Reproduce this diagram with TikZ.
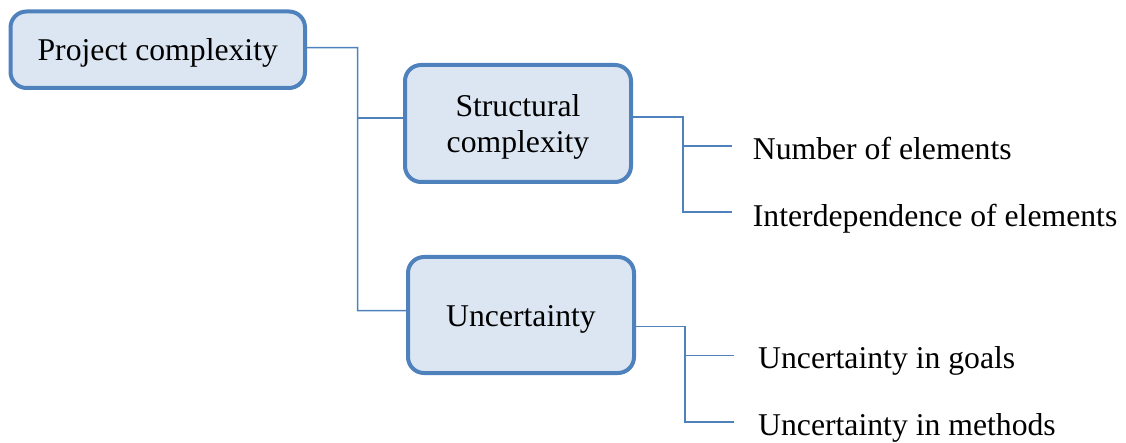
\documentclass[tikz,border=0pt]{standalone}
\usepackage{fontspec}
\setmainfont{Liberation Serif}
\definecolor{bord}{HTML}{4F81BD}
\definecolor{fillb}{HTML}{DCE6F2}
\newcommand{\lowerby}[2]{\raisebox{-#1}[\height][\depth]{#2}}
\begin{document}
\begin{tikzpicture}[x=1pt,y=-1pt,
  box/.style={draw=bord, fill=fillb, line width=4pt, rounded corners=16pt, align=center, inner sep=0pt,
    font=\fontsize{31.7}{36}\selectfont},
  leaf/.style={anchor=base west, inner sep=0pt, font=\fontsize{31.7}{36}\selectfont},
  conn/.style={draw=bord, line width=1.5pt}]
\useasboundingbox (0,0) rectangle (1126,443);
% boxes
\node[box, minimum width=294.5pt, minimum height=76.5pt] (pc) at (157.75,49.75) {\lowerby{3pt}{Project complexity}};
\node[box, minimum width=226pt, minimum height=117pt] (sc) at (518,123.5)
  {\lowerby{4pt}{\begin{tabular}{@{}c@{}}Structural\\complexity\end{tabular}}};
\node[box, minimum width=226pt, minimum height=116pt] (uc) at (521,315) {\lowerby{4.5pt}{Uncertainty}};
% leaves
\node[leaf] (n1) at (752.7,160) {Number of elements};
\node[leaf] (n2) at (752.7,227) {Interdependence of elements};
\node[leaf] (n3) at (758,368) {Uncertainty in goals};
\node[leaf] (n4) at (758,435) {Uncertainty in methods};
% junction coordinates
\coordinate (j1) at (357.5,47.7);
\coordinate (j2) at (357.5,310.7);
\coordinate (j3) at (683,117);
\coordinate (j4) at (683,212);
\coordinate (e1) at (732,146);
\coordinate (e2) at (732,212);
\coordinate (j5) at (685,326.7);
\coordinate (j6) at (685,422);
\coordinate (e3) at (734,355.7);
\coordinate (e4) at (734,422);
% connectors
\draw[conn] ([yshift=2pt]pc.east) -- (j1) -- (j2) -- ([yshift=4.3pt]uc.west);
\draw[conn] (j1 |- sc.west) ++(0,-5.5) -- ([yshift=5.5pt]sc.west);
\draw[conn] ([yshift=6.5pt]sc.east) -- (j3) -- (j4) -- (e2);
\draw[conn] (j3 |- e1) -- (e1);
\draw[conn] ([yshift=-11.7pt]uc.east) -- (j5) -- (j6) -- (e4);
\draw[conn] (j5 |- e3) -- (e3);
\end{tikzpicture}
\end{document}
